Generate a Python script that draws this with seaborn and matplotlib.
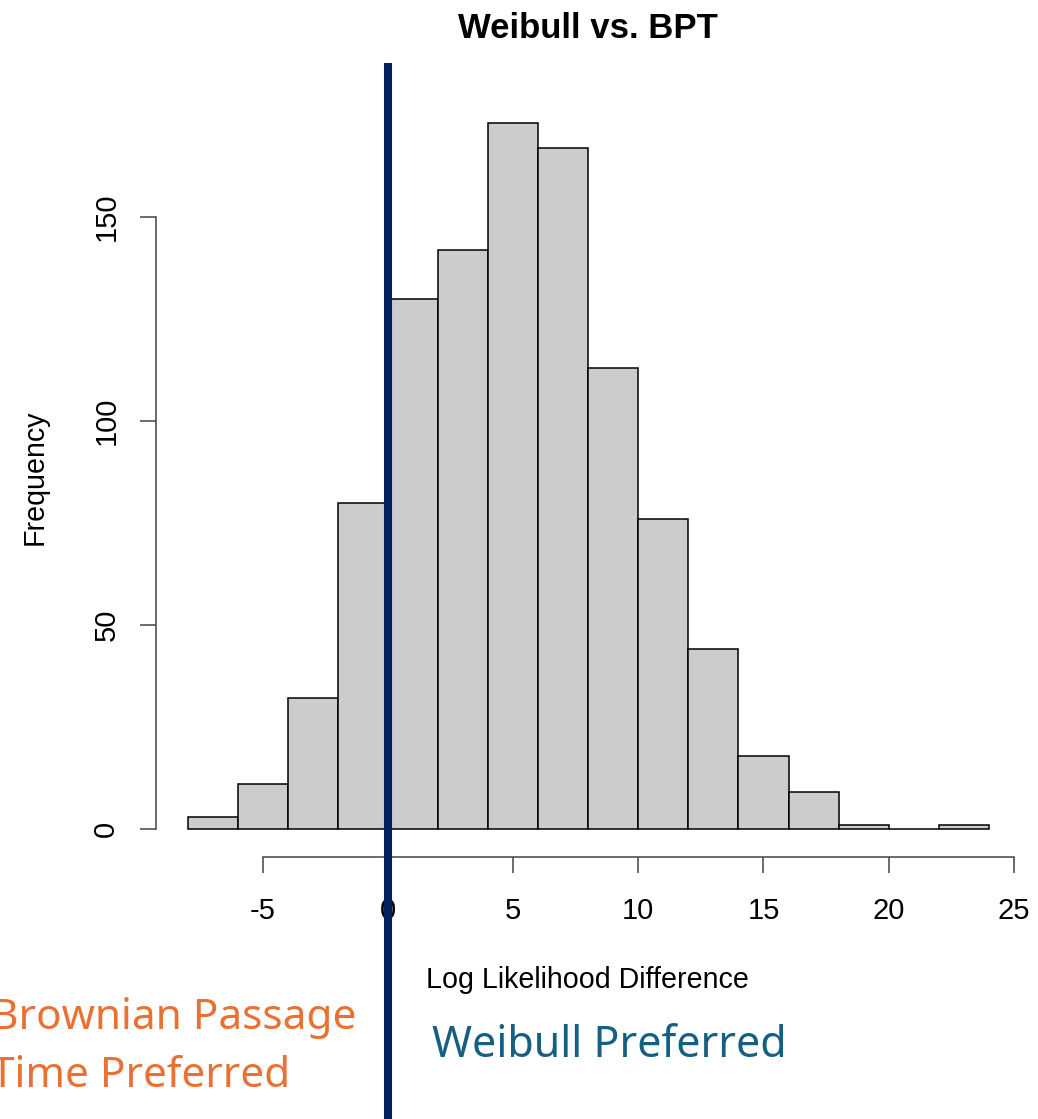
import numpy as np
import matplotlib
matplotlib.use("Agg")
import matplotlib.pyplot as plt
import seaborn as sns

# ---- data ----
bin_edges = [-8, -6, -4, -2, 0, 2, 4, 6, 8, 10, 12, 14, 16, 18, 20, 22, 24]
counts = [3, 11, 32, 80, 130, 142, 173, 167, 113, 76, 44, 18, 9, 1, 0, 1]
x_ticks = [-5, 0, 5, 10, 15, 20, 25]
y_ticks = [0, 50, 100, 150]
title = "Weibull vs. BPT"
x_label = "Log Likelihood Difference"
y_label = "Frequency"
left_note = "Brownian Passage\nTime Preferred"
right_note = "Weibull Preferred"
threshold = 0

W, H = 1038, 1119
sns.set_style("white")
plt.rcParams["font.family"] = ["Liberation Sans", "DejaVu Sans"]
plt.rcParams["text.color"] = "black"
plt.rcParams["xtick.color"] = "black"
plt.rcParams["ytick.color"] = "black"

fig = plt.figure(figsize=(W / 100, H / 100), dpi=100)
L, R, T, B = 155.7, 1020.8, 95.0, 857.2
ax = fig.add_axes([L / W, 1 - B / H, (R - L) / W, (B - T) / H])

centers = [(bin_edges[i] + bin_edges[i + 1]) / 2 for i in range(len(counts))]
sns.histplot(x=centers, weights=counts, bins=bin_edges, stat="count",
             color="#CCCCCC", edgecolor="black", linewidth=1.1, alpha=1, ax=ax)

ax.set_xlim(-9.28, 25.28)
ax.set_ylim(-6.92, 179.92)
ax.set_xticks(x_ticks)
ax.set_yticks(y_ticks)
ax.set_xticklabels([str(t) for t in x_ticks], fontsize=21)
ax.set_yticklabels([str(t) for t in y_ticks], fontsize=21, rotation=90, va="center")
ax.tick_params(axis="both", direction="out", length=11.5, width=1.1,
               color="#444444", labelcolor="black", bottom=True, left=True)
ax.tick_params(axis="x", pad=17)
ax.tick_params(axis="y", pad=14)
for s in ["top", "right"]:
    ax.spines[s].set_visible(False)
for s in ["left", "bottom"]:
    ax.spines[s].set_color("#444444")
    ax.spines[s].set_linewidth(1.1)
ax.spines["left"].set_bounds(y_ticks[0], y_ticks[-1])
ax.spines["bottom"].set_bounds(x_ticks[0], x_ticks[-1])
ax.set_xlabel("")
ax.set_ylabel("")

fig.text(587.5 / W, 1 - 980 / H, x_label, ha="center", va="center", fontsize=20.6, color="black")
fig.text(35 / W, 1 - 477 / H, y_label, ha="center", va="center", fontsize=20.6,
         rotation=90, color="black")
fig.text(588 / W, 1 - 29 / H, title, ha="center", va="center", fontsize=25,
         fontweight="bold", color="black")

ymax = (B - 63) / (B - T)
ymin = (B - H) / (B - T)
ax.axvline(threshold, ymin=ymin, ymax=ymax, color="#002060", linewidth=5.8,
           clip_on=False, zorder=10, solid_capstyle="butt")

fig.text(-9 / W, 1 - 1047 / H, left_note, ha="left", va="center", fontsize=30.5,
         color="#E97132", family=["Noto Sans", "DejaVu Sans"], linespacing=1.5)
fig.text(432 / W, 1 - 1046 / H, right_note, ha="left", va="center", fontsize=31,
         color="#156082", family=["Noto Sans", "DejaVu Sans"])

fig.savefig("out.png", dpi=100)
